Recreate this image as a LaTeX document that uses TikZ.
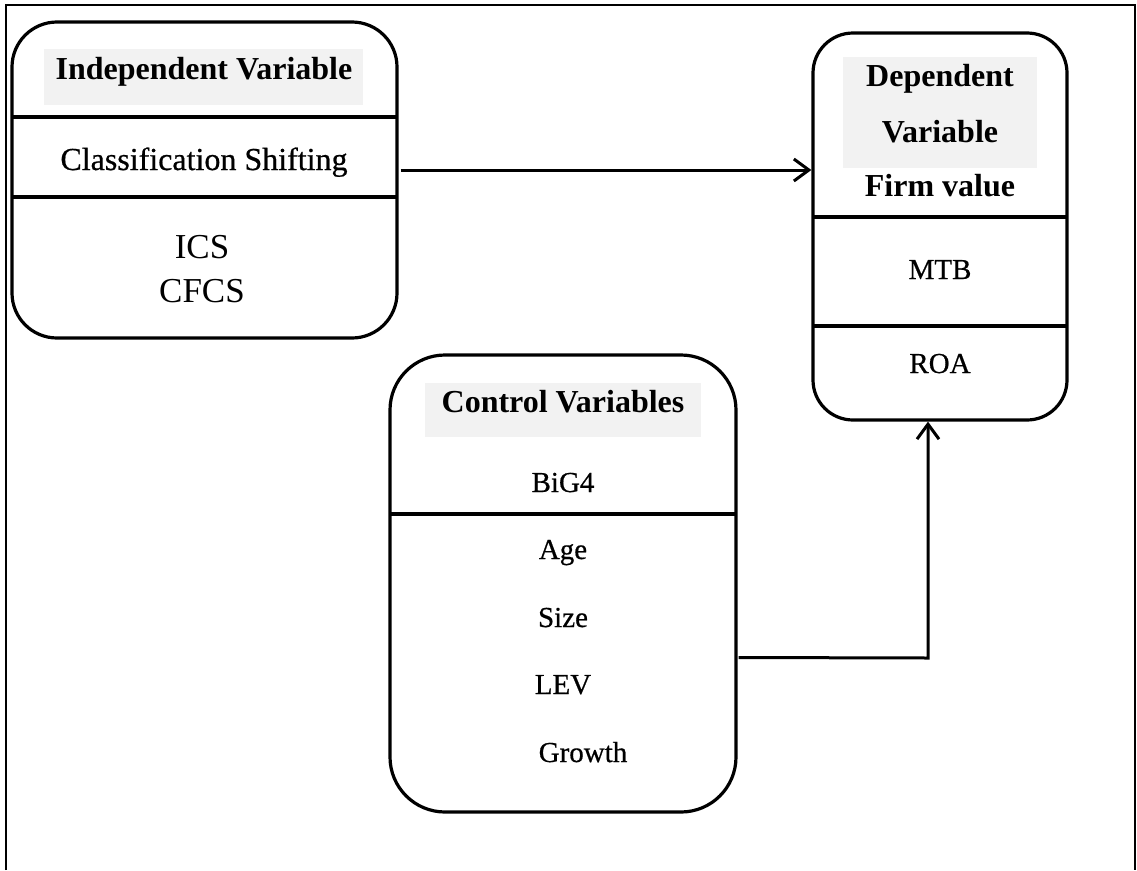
\documentclass[tikz,border=0pt]{standalone}
\usepackage{fontspec}
\setmainfont{Liberation Serif}
\newfontfamily\cambfont[FakeBold=0.6]{Liberation Serif}
\usetikzlibrary{arrows.meta}

\begin{document}
\begin{tikzpicture}[x=1pt,y=-1pt,
    box/.style={draw,line width=3.2pt,rounded corners=#1,inner sep=0pt},
    hdr/.style={fill=black!5},
    rule/.style={line width=3.2pt},
    head/.style={font=\fontsize{32}{38}\selectfont\bfseries,anchor=base,inner sep=0pt},
    item/.style={font=\cambfont\fontsize{29}{34}\selectfont,anchor=base,inner sep=0pt},
    arr/.style={line width=3pt,-{Straight Barb[length=15pt,width=22pt]}}]
  \useasboundingbox (0,0) rectangle (1137,870);
  % frame, open at the bottom
  \draw[line width=2pt] (6,870) -- (6,5) -- (1135,5) -- (1135,870);
  % the three boxes
  \node[box=45,minimum width=385,minimum height=316] (ind) at (204.5,180) {};
  \node[box=40,minimum width=254,minimum height=387] (dep) at (940,226.5) {};
  \node[box=55,minimum width=346,minimum height=457] (ctl) at (563,583.5) {};
  \fill[hdr] (44,49) rectangle (363,105);
  \fill[hdr] (843,57) rectangle (1037,168);
  \fill[hdr] (425,383) rectangle (701,437);
  \draw[rule] (12,117) -- (397,117) (12,197) -- (397,197);
  \draw[rule] (813,217) -- (1067,217) (813,326) -- (1067,326);
  \draw[rule] (390,514) -- (736,514);
  % independent
  \node[head] (indT) at (204,79) {Independent Variable};
  \node[item,font=\cambfont\fontsize{32}{38}\selectfont] (cls) at (204,170) {Classification Shifting};
  \node[item,font=\rmfamily\fontsize{35}{40}\selectfont] (ics) at (202,258) {ICS};
  \node[item,font=\rmfamily\fontsize{35}{40}\selectfont] (cfcs) at (202,302) {CFCS};
  % dependent
  \node[head] (depA) at (940,86) {Dependent};
  \node[head] (depB) at (940,142) {Variable};
  \node[head] (depC) at (940,196) {Firm value};
  \node[item] (mtb) at (940,279) {MTB};
  \node[item] (roa) at (940,373) {ROA};
  % control
  \node[head] (ctlT) at (563,412) {Control Variables};
  \node[item] (big) at (563,492) {BiG4};
  \foreach \t/\y in {Age/559,Size/627,LEV/694}
    \node[item] (c\t) at (563,\y) {\t};
  \node[item] (grw) at (583,762) {Growth};
  % arrows
  \coordinate (bend) at (928,658);
  \draw[arr,shorten <=2pt] (ind.east |- cls.base) -- (dep.west |- cls.base);
  \draw[arr,shorten <=1pt] ([yshift=-74pt]ctl.east) -- (bend) -- (dep.south -| bend);
\end{tikzpicture}
\end{document}
